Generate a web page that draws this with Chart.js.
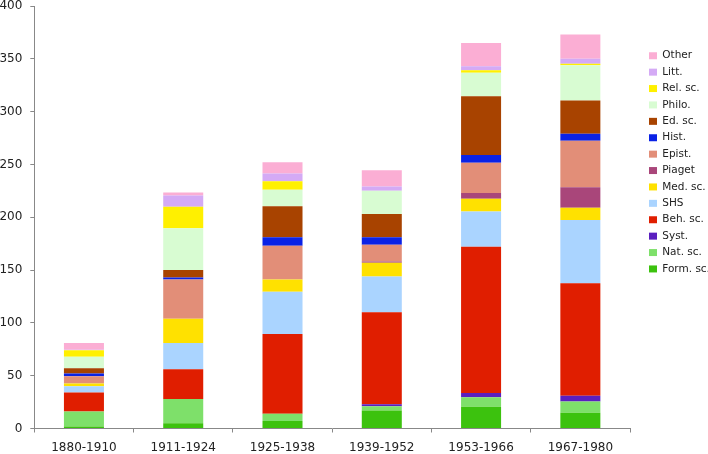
<!DOCTYPE html>
<html>
<head>
<meta charset="utf-8">
<script src="https://cdn.jsdelivr.net/npm/chart.js@4/dist/chart.umd.min.js"></script>
<style>
  body { margin: 0; background: #fff; }
  #wrap { width: 708px; height: 454px; }
</style>
</head>
<body>
<div id="wrap"><canvas id="periods-chart" width="708" height="454"></canvas></div>
<script>
// periods (x categories)
const periods = ["1880-1910", "1911-1924", "1925-1938", "1939-1952", "1953-1966", "1967-1980"];

// values per discipline (bottom of stack first)
const formSc = [2, 5, 7, 17, 20.5, 15];
const natSc = [14, 23, 7, 4, 9, 10.5];
const syst = [0, 0, 0, 2, 4, 5.5];
const behSc = [18, 28, 75.5, 87, 138.5, 106.5];
const shs = [6, 25, 40, 34, 33.5, 60];
const medSc = [2.5, 23, 11.5, 13, 12, 11.5];
const piaget = [0, 0, 0, 1, 5.5, 19.5];
const epist = [7, 37, 32, 16, 28.5, 44];
const hist = [2.5, 2, 8, 7, 7.5, 6.5];
const edSc = [5, 7, 29.5, 22, 55.5, 31.5];
const philo = [11, 39.5, 15.5, 22, 22.2, 33.5];
const relSc = [6, 20.5, 8, 0, 2.4, 1.3];
const litt = [0.5, 10.5, 7.5, 4, 3.8, 4.7];
const other = [6.5, 3, 10.5, 15.5, 22, 23];

const yTicks = [0, 50, 100, 150, 200, 250, 300, 350, 400];

document.addEventListener("DOMContentLoaded", () => {
  const series = [
    ["Form. sc.", formSc, "#3cc20e"],
    ["Nat. sc.", natSc, "#7ee06a"],
    ["Syst.", syst, "#5a1fbf"],
    ["Beh. sc.", behSc, "#e01e00"],
    ["SHS", shs, "#aad4ff"],
    ["Med. sc.", medSc, "#ffe100"],
    ["Piaget", piaget, "#a9467a"],
    ["Epist.", epist, "#e28e78"],
    ["Hist.", hist, "#0a22e6"],
    ["Ed. sc.", edSc, "#a84300"],
    ["Philo.", philo, "#d8fcd2"],
    ["Rel. sc.", relSc, "#fff000"],
    ["Litt.", litt, "#d4aaf5"],
    ["Other", other, "#fbaed4"],
  ];

  const datasets = series.map(([label, data, color]) => ({
    label: label,
    data: data,
    backgroundColor: color,
    borderWidth: 0,
    categoryPercentage: 1,
    barPercentage: 0.403,
  }));

  const ctx = document.getElementById("periods-chart").getContext("2d");
  new Chart(ctx, {
    type: "bar",
    data: { labels: periods, datasets: datasets },
    options: {
      responsive: false,
      animation: false,
      layout: { padding: 0 },
      plugins: {
        tooltip: { enabled: false },
        legend: {
          position: "right",
          align: "start",
          reverse: true,
          maxWidth: 64.9,
          title: { display: true, text: " ", font: { size: 10 }, padding: { top: 32.6, bottom: 0 } },
          labels: {
            boxWidth: 8,
            boxHeight: 7,
            padding: 5.9,
            color: "#222",
            font: { family: "DejaVu Sans", size: 10.5 },
          },
        },
      },
      scales: {
        x: {
          stacked: true,
          grid: { drawOnChartArea: false, tickLength: 4, color: "#888" },
          border: { color: "#888" },
          ticks: { padding: 8, color: "#222", font: { family: "DejaVu Sans", size: 12 } },
          afterFit: (scale) => {
            scale.height = 25.5;
          },
        },
        y: {
          stacked: true,
          min: 0,
          max: 400,
          afterBuildTicks: (scale) => {
            scale.ticks = yTicks.map((v) => ({ value: v }));
          },
          grid: { drawOnChartArea: false, tickLength: 4, color: "#888" },
          border: { color: "#888" },
          ticks: { padding: 8, color: "#222", font: { family: "DejaVu Sans", size: 12 } },
          afterFit: (scale) => {
            scale.width = 34.3;
            scale.paddingTop = 6;
            scale.paddingBottom = 0;
          },
        },
        // empty spacer between the plot and the legend
        gap: {
          position: "right",
          display: true,
          grid: { display: false },
          border: { display: false },
          ticks: { display: false },
          afterFit: (scale) => {
            scale.width = 13.1;
            scale.paddingTop = 0;
            scale.paddingBottom = 0;
          },
        },
      },
    },
  });
});
</script>
</body>
</html>
